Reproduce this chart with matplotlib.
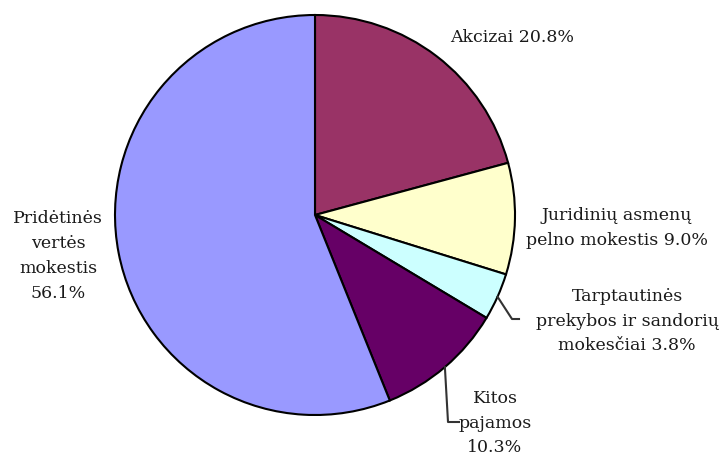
import numpy as np
import matplotlib
matplotlib.use("Agg")
import matplotlib.pyplot as plt

labels = ["Akcizai 20.8%",
          "Juridinių asmenų\npelno mokestis 9.0%",
          "Tarptautinės\nprekybos ir sandorių\nmokesčiai 3.8%",
          "Kitos\npajamos\n10.3%",
          "Pridėtinės\nvertės\nmokestis\n56.1%"]
values = [20.8, 9.0, 3.8, 10.3, 56.1]
colors = ["#993366", "#FFFFCC", "#CCFFFF", "#660066", "#9999FF"]

# label placement (layout, axes data units, radius = 1)
label_pos = [(0.985, 0.885), (1.51, -0.065), (1.56, -0.53), (0.9, -1.04), (-1.285, -0.205)]
leaders = {2: [(0.985, -0.52), (1.02, -0.52)],
           3: [(0.665, -1.035), (0.72, -1.035)]}

fig = plt.figure(figsize=(7.2, 4.65), dpi=100)
fig.patch.set_facecolor("white")
ax = fig.add_axes([115/720, 50/465, 400/720, 400/465])
wedges, _ = ax.pie(values, colors=colors, startangle=90, counterclock=False,
                   radius=1.0, wedgeprops=dict(edgecolor="black", linewidth=1.5))
ax.set_xlim(-1, 1)
ax.set_ylim(-1, 1)
ax.set_aspect("auto")
ax.axis("off")

for i, (lab, (x, y)) in enumerate(zip(labels, label_pos)):
    ax.text(x, y, lab, ha="center", va="center", fontsize=12.5,
            family="DejaVu Serif", linespacing=1.6, color="#1a1a1a",
            clip_on=False)

for i, pts in leaders.items():
    w = wedges[i]
    mid = np.deg2rad((w.theta1 + w.theta2) / 2)
    xs = [np.cos(mid)] + [p[0] for p in pts]
    ys = [np.sin(mid)] + [p[1] for p in pts]
    ax.plot(xs, ys, color="#333333", lw=1.5, clip_on=False)

fig.savefig("out.png", dpi=100)
